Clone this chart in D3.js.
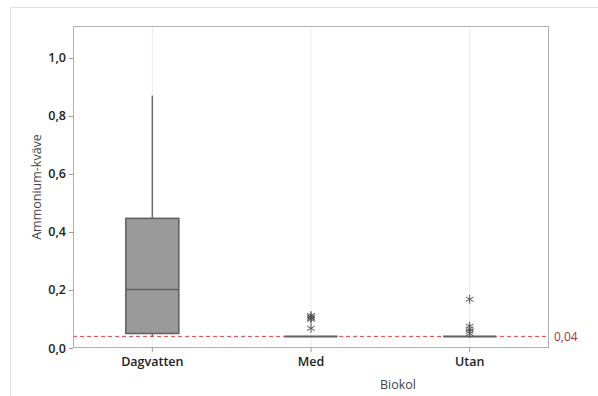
<!DOCTYPE html>
<html>
<head>
<meta charset="utf-8">
<script src="https://cdn.jsdelivr.net/npm/d3@7"></script>
<style>
  html, body { margin: 0; padding: 0; background: #fff; }
  svg { display: block; font-family: "Open Sans", "Noto Sans", sans-serif; }
</style>
</head>
<body>
<svg id="chart" width="598" height="396"></svg>
<script>
// Ammonium-kväve per Biokol group
const categories = ["Dagvatten", "Med", "Utan"];
const q1 = [0.05, 0.04, 0.04];
const median = [0.202, 0.04, 0.04];
const q3 = [0.447, 0.04, 0.04];
const whiskerLow = [0.04, 0.04, 0.04];
const whiskerHigh = [0.87, 0.04, 0.04];
const outliers = [
  [],
  [0.068, 0.099, 0.103, 0.107, 0.112],
  [0.168, 0.05, 0.058, 0.066, 0.075]
];
const yTicks = [0, 0.2, 0.4, 0.6, 0.8, 1.0];
const refValue = 0.04;
const refLabel = "0,04";

const svg = d3.select("#chart");
const m = { left: 73, right: 549, top: 26, bottom: 348 };

const x = d3.scaleBand().domain(categories).range([m.left, m.right]).paddingInner(0).paddingOuter(0);
const y = d3.scaleLinear().domain([0, 1.11]).range([m.bottom, m.top]);
const fmt = d => d3.format(".1f")(d).replace(".", ",");
const cx = c => x(c) + x.bandwidth() / 2;
const boxW = 53;

// outer frame
svg.append("path").attr("d", "M10.5,396 V7.5 H598")
  .attr("fill", "none").attr("stroke", "#e2e2e2").attr("stroke-width", 1);

// vertical category gridlines
svg.append("g").selectAll("line").data(categories).join("line")
  .attr("x1", d => cx(d)).attr("x2", d => cx(d))
  .attr("y1", m.top).attr("y2", m.bottom)
  .attr("stroke", "#ececec").attr("stroke-width", 1);

// y axis
const yAxis = svg.append("g").attr("transform", `translate(${m.left},0)`)
  .call(d3.axisLeft(y).tickValues(yTicks).tickFormat(fmt).tickSize(4).tickPadding(3));
yAxis.select(".domain").remove();
yAxis.selectAll(".tick line").attr("stroke", "#999");
yAxis.selectAll(".tick text").attr("fill", "#222").attr("font-size", 12.5).attr("font-weight", 600)
  .attr("font-family", "'Open Sans', sans-serif");

// x axis
const xAxis = svg.append("g").attr("transform", `translate(0,${m.bottom})`)
  .call(d3.axisBottom(x).tickSize(4).tickPadding(5));
xAxis.select(".domain").remove();
xAxis.selectAll(".tick line").attr("stroke", "#999");
xAxis.selectAll(".tick text").attr("fill", "#222").attr("font-size", 12.5).attr("font-weight", 600)
  .attr("font-family", "'Open Sans', sans-serif");

// reference line
svg.append("line")
  .attr("x1", m.left).attr("x2", m.right)
  .attr("y1", y(refValue)).attr("y2", y(refValue))
  .attr("stroke", "#e8474a").attr("stroke-width", 1).attr("stroke-dasharray", "4,3");
svg.append("text").attr("x", m.right + 5).attr("y", y(refValue)).attr("dy", "0.35em")
  .attr("fill", "#a83232").attr("font-size", 12).text(refLabel);

// boxes
const g = svg.append("g");
categories.forEach((c, i) => {
  const xc = cx(c);
  if (whiskerHigh[i] > q3[i]) {
    g.append("line").attr("x1", xc).attr("x2", xc)
      .attr("y1", y(q3[i])).attr("y2", y(whiskerHigh[i]))
      .attr("stroke", "#6a6a6a").attr("stroke-width", 1.5);
  }
  if (whiskerLow[i] < q1[i]) {
    g.append("line").attr("x1", xc).attr("x2", xc)
      .attr("y1", y(q1[i])).attr("y2", y(whiskerLow[i]))
      .attr("stroke", "#6a6a6a").attr("stroke-width", 1.5);
  }
  if (q3[i] > q1[i]) {
    g.append("rect").attr("x", xc - boxW / 2).attr("width", boxW)
      .attr("y", y(q3[i])).attr("height", y(q1[i]) - y(q3[i]))
      .attr("fill", "#9a9a9a").attr("stroke", "#5e5e5e").attr("stroke-width", 1.5);
  }
  g.append("line").attr("x1", xc - boxW / 2).attr("x2", xc + boxW / 2)
    .attr("y1", y(median[i])).attr("y2", y(median[i]))
    .attr("stroke", "#606060").attr("stroke-width", q3[i] > q1[i] ? 1.5 : 2);
  outliers[i].forEach(v => {
    g.append("path").attr("d", d3.symbol(d3.symbolAsterisk, 55)())
      .attr("transform", `translate(${xc},${y(v)})`)
      .attr("fill", "none").attr("stroke", "#555").attr("stroke-width", 1);
  });
});

// plot frame
svg.append("rect").attr("x", m.left + 0.5).attr("y", m.top + 0.5)
  .attr("width", m.right - m.left - 1).attr("height", m.bottom - m.top - 1)
  .attr("fill", "none").attr("stroke", "#b0b0b0").attr("stroke-width", 1);

// axis titles
svg.append("text").attr("transform", `translate(41,${(m.top + m.bottom) / 2}) rotate(-90)`)
  .attr("text-anchor", "middle").attr("fill", "#444").attr("font-size", 12.5).text("Ammonium-kväve");
svg.append("text").attr("x", 398).attr("y", 389).attr("text-anchor", "middle")
  .attr("fill", "#444").attr("font-size", 12.5).text("Biokol");
</script>
</body>
</html>
